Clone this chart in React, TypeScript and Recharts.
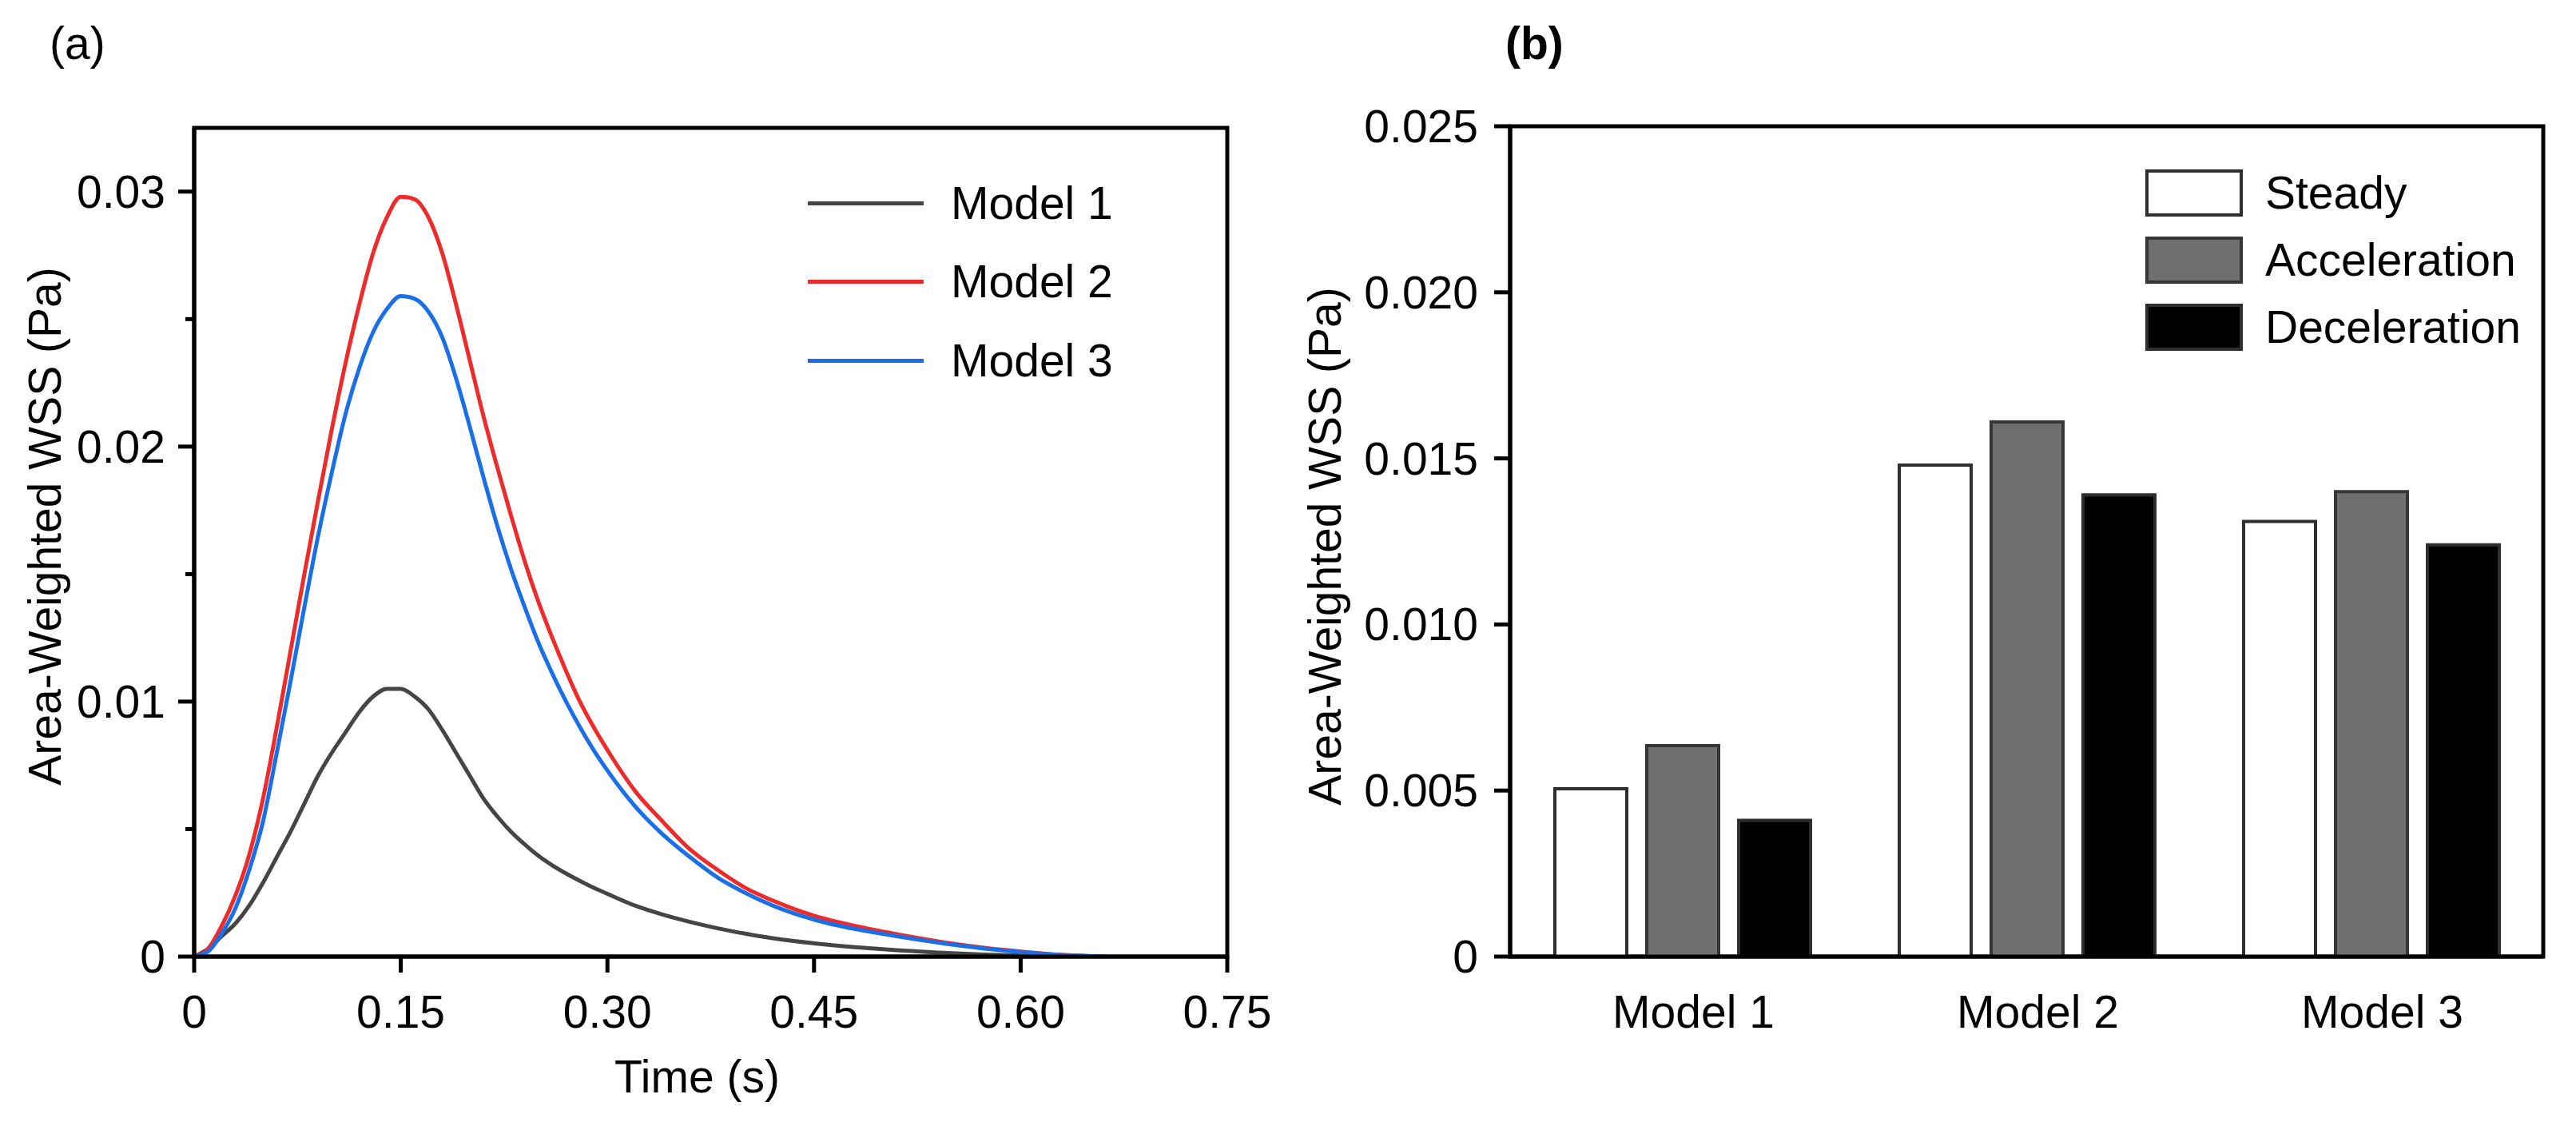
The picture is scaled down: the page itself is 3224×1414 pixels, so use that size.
import React from 'react';
import {
  LineChart,
  Line,
  BarChart,
  Bar,
  XAxis,
  YAxis,
  Legend,
  Label,
  ReferenceArea,
} from 'recharts';

const FONT = '"Liberation Sans", Arial, sans-serif';
const FS = 57;
const AXIS_W = 5;

// (a) time series
const times = [
  0, 0.01, 0.02, 0.03, 0.04, 0.05, 0.06, 0.07, 0.08, 0.09, 0.1, 0.11, 0.12, 0.13, 0.14, 0.15,
  0.16, 0.17, 0.18, 0.19, 0.2, 0.21, 0.22, 0.23, 0.24, 0.25, 0.26, 0.27, 0.28, 0.29, 0.3,
  0.32, 0.34, 0.36, 0.38, 0.4, 0.42, 0.45, 0.48, 0.51, 0.54, 0.57, 0.6, 0.63, 0.66,
];
const model1 = [
  0, 0.0003, 0.0008, 0.0013, 0.002, 0.0029, 0.0039, 0.0049, 0.006, 0.0071, 0.008, 0.0088, 0.0096, 0.0102, 0.0105, 0.0105,
  0.0102, 0.0097, 0.0089, 0.008, 0.0071, 0.0062, 0.0055, 0.0049, 0.0044, 0.00395, 0.00358, 0.00326, 0.00297, 0.0027, 0.00246,
  0.002, 0.00165, 0.00136, 0.00111, 0.0009, 0.00072, 0.00052, 0.00037, 0.00025, 0.00016, 0.00009, 0.00004, 0, 0,
];
const model2 = [
  0, 0.0003, 0.0012, 0.0024, 0.004, 0.0062, 0.009, 0.012, 0.015, 0.0179, 0.0207, 0.0233, 0.0256, 0.0276, 0.029, 0.0298,
  0.0297, 0.029, 0.0276, 0.0256, 0.0234, 0.0212, 0.0192, 0.0173, 0.0155, 0.0139, 0.0125, 0.0112, 0.01, 0.009, 0.0081,
  0.0065, 0.0053, 0.0042, 0.0034, 0.0027, 0.0022, 0.0016, 0.0012, 0.00088, 0.0006, 0.00037, 0.0002, 0.00007, 0,
];
const model3 = [
  0, 0.0002, 0.0009, 0.0019, 0.0034, 0.0053, 0.008, 0.0108, 0.0137, 0.0165, 0.019, 0.0213, 0.0231, 0.0245, 0.0254, 0.0259,
  0.0258, 0.0253, 0.0243, 0.0227, 0.0208, 0.0188, 0.0169, 0.0152, 0.0137, 0.0123, 0.0111, 0.01, 0.009, 0.0081, 0.0073,
  0.0059, 0.0048, 0.0039, 0.0031, 0.0025, 0.002, 0.00145, 0.00108, 0.0008, 0.00055, 0.00034, 0.00018, 0.00006, 0,
];
const lineNames = ['Model 1', 'Model 2', 'Model 3'];
const lineColors = ['#454545', '#ee2b2b', '#1a6fe6'];
const timeTicks = [0, 0.15, 0.3, 0.45, 0.6, 0.75];
const wssTicksA = [0, 0.005, 0.01, 0.015, 0.02, 0.025, 0.03];

// (b) bars
const models = ['Model 1', 'Model 2', 'Model 3'];
const steady = [0.00505, 0.0148, 0.0131];
const acceleration = [0.00635, 0.0161, 0.014];
const deceleration = [0.0041, 0.0139, 0.0124];
const phaseNames = ['Steady', 'Acceleration', 'Deceleration'];
const phaseFills = ['#ffffff', '#6f6f6f', '#000000'];
const phaseStrokes = ['#2e2e2e', '#363636', '#2e2e2e'];
const wssTicksB = [0, 0.005, 0.01, 0.015, 0.02, 0.025];

const lineData = times.map((t, i) => ({ t, m1: model1[i], m2: model2[i], m3: model3[i] }));
const barData = models.map((name, i) => ({
  name,
  steady: steady[i],
  acceleration: acceleration[i],
  deceleration: deceleration[i],
}));

const txt = { fontFamily: FONT, fontSize: FS, fill: '#000' };

const LeftYTick = (props: any) => {
  const { x, y, payload } = props;
  const v = payload.value;
  const major = Math.round(v * 1000) % 10 === 0;
  return (
    <g>
      <line x1={x - (major ? 20 : 11)} x2={x} y1={y} y2={y} stroke="#000" strokeWidth={AXIS_W} />
      {major && (
        <text x={x - 36} y={y + 20} textAnchor="end" style={txt}>
          {v === 0 ? '0' : v.toFixed(2)}
        </text>
      )}
    </g>
  );
};

const TimeTick = (props: any) => {
  const { x, y, payload } = props;
  const v = payload.value;
  return (
    <g>
      <line x1={x} x2={x} y1={y} y2={y + 20} stroke="#000" strokeWidth={AXIS_W} />
      <text x={x} y={y + 89} textAnchor="middle" style={txt}>
        {v === 0 ? '0' : v.toFixed(2)}
      </text>
    </g>
  );
};

const RightYTick = (props: any) => {
  const { x, y, payload } = props;
  const v = payload.value;
  return (
    <g>
      <line x1={x - 20} x2={x} y1={y} y2={y} stroke="#000" strokeWidth={AXIS_W} />
      <text x={x - 40} y={y + 20} textAnchor="end" style={txt}>
        {v === 0 ? '0' : v.toFixed(3)}
      </text>
    </g>
  );
};

const ModelTick = (props: any) => {
  const { x, y, payload } = props;
  return (
    <text x={x + 14} y={y + 89} textAnchor="middle" style={txt}>
      {payload.value}
    </text>
  );
};

const yTitle = (shift: number, dy: number) => (props: any) => {
  const vb = props.viewBox;
  const cx = vb.x + vb.width - shift;
  const cy = vb.y + vb.height / 2 + dy;
  return (
    <text
      x={cx}
      y={cy}
      transform={`rotate(-90 ${cx} ${cy})`}
      textAnchor="middle"
      dominantBaseline="central"
      style={txt}
    >
      Area-Weighted WSS (Pa)
    </text>
  );
};

const timeTitle = (props: any) => {
  const vb = props.viewBox;
  return (
    <text x={vb.x + vb.width / 2 - 17} y={1367} textAnchor="middle" style={txt}>
      Time (s)
    </text>
  );
};

const LineLegend = () => (
  <div style={{ fontFamily: FONT, fontSize: FS }}>
    {lineNames.map((name, i) => (
      <div key={name} style={{ display: 'flex', alignItems: 'center', height: 98.5 }}>
        <div style={{ width: 145, height: 5, background: lineColors[i] }} />
        <span style={{ marginLeft: 34, lineHeight: 1 }}>{name}</span>
      </div>
    ))}
  </div>
);

const BarLegend = () => (
  <div style={{ fontFamily: FONT, fontSize: FS }}>
    {phaseNames.map((name, i) => (
      <div key={name} style={{ display: 'flex', alignItems: 'center', height: 84 }}>
        <div
          style={{
            width: 114,
            height: 51,
            background: phaseFills[i],
            border: `4px solid ${phaseStrokes[i]}`,
          }}
        />
        <span style={{ marginLeft: 28, lineHeight: 1 }}>{name}</span>
      </div>
    ))}
  </div>
);

const App = (): React.ReactElement => {
  return (
    <div
      style={{
        position: 'absolute',
        left: 0,
        top: 0,
        width: 3224,
        height: 1414,
        background: '#fff',
        fontFamily: FONT,
      }}
    >
      <div style={{ position: 'absolute', left: 62, top: 24, fontSize: FS, lineHeight: '60px' }}>(a)</div>
      <div
        style={{ position: 'absolute', left: 1884, top: 24, fontSize: FS, lineHeight: '60px', fontWeight: 'bold' }}
      >
        (b)
      </div>

      <div style={{ position: 'absolute', left: 0, top: 0 }}>
        <LineChart
          width={1612}
          height={1414}
          data={lineData}
          margin={{ top: 160, right: 76, bottom: 117, left: 143 }}
        >
          <XAxis
            dataKey="t"
            type="number"
            domain={[0, 0.75]}
            ticks={timeTicks}
            allowDataOverflow
            height={100}
            tickSize={0}
            tickMargin={0}
            tickLine={false}
            axisLine={{ stroke: '#000', strokeWidth: AXIS_W }}
            tick={<TimeTick />}
            interval={0}
          >
            <Label content={timeTitle} />
          </XAxis>
          <YAxis
            type="number"
            domain={[0, 0.0325]}
            ticks={wssTicksA}
            allowDataOverflow
            width={100}
            tickSize={0}
            tickMargin={0}
            tickLine={false}
            axisLine={{ stroke: '#000', strokeWidth: AXIS_W }}
            tick={<LeftYTick />}
            interval={0}
          >
            <Label content={yTitle(187, -20)} />
          </YAxis>
          <ReferenceArea y1={0} y2={0.0325} fill="none" stroke="#000" strokeWidth={AXIS_W} ifOverflow="visible" />
          <Line type="monotone" dataKey="m1" name={lineNames[0]} stroke={lineColors[0]} strokeWidth={5} dot={false} isAnimationActive={false} />
          <Line type="monotone" dataKey="m2" name={lineNames[1]} stroke={lineColors[1]} strokeWidth={5} dot={false} isAnimationActive={false} />
          <Line type="monotone" dataKey="m3" name={lineNames[2]} stroke={lineColors[2]} strokeWidth={5} dot={false} isAnimationActive={false} />
          <Legend
            layout="vertical"
            align="center"
            verticalAlign="middle"
            content={<LineLegend />}
            wrapperStyle={{ top: 205, left: 1011, width: 'auto' }}
          />
        </LineChart>
      </div>

      <div style={{ position: 'absolute', left: 1612, top: 0 }}>
        <BarChart
          width={1612}
          height={1414}
          data={barData}
          margin={{ top: 158, right: 41, bottom: 117, left: 178 }}
          barSize={90}
          barGap={25}
        >
          <XAxis
            dataKey="name"
            height={100}
            tickSize={0}
            tickMargin={0}
            tickLine={false}
            axisLine={{ stroke: '#000', strokeWidth: AXIS_W }}
            tick={<ModelTick />}
            interval={0}
          />
          <YAxis
            type="number"
            domain={[0, 0.025]}
            ticks={wssTicksB}
            allowDataOverflow
            width={100}
            tickSize={0}
            tickMargin={0}
            tickLine={false}
            axisLine={{ stroke: '#000', strokeWidth: AXIS_W }}
            tick={<RightYTick />}
            interval={0}
          >
            <Label content={yTitle(232, 6)} />
          </YAxis>
          <ReferenceArea y1={0} y2={0.025} fill="none" stroke="#000" strokeWidth={AXIS_W} ifOverflow="visible" />
          <Bar dataKey="steady" name={phaseNames[0]} fill={phaseFills[0]} stroke={phaseStrokes[0]} strokeWidth={4} isAnimationActive={false} />
          <Bar dataKey="acceleration" name={phaseNames[1]} fill={phaseFills[1]} stroke={phaseStrokes[1]} strokeWidth={4} isAnimationActive={false} />
          <Bar dataKey="deceleration" name={phaseNames[2]} fill={phaseFills[2]} stroke={phaseStrokes[2]} strokeWidth={4} isAnimationActive={false} />
          <Legend
            layout="vertical"
            align="center"
            verticalAlign="middle"
            content={<BarLegend />}
            wrapperStyle={{ top: 199, left: 1073, width: 'auto' }}
          />
        </BarChart>
      </div>
    </div>
  );
};

export default App;
